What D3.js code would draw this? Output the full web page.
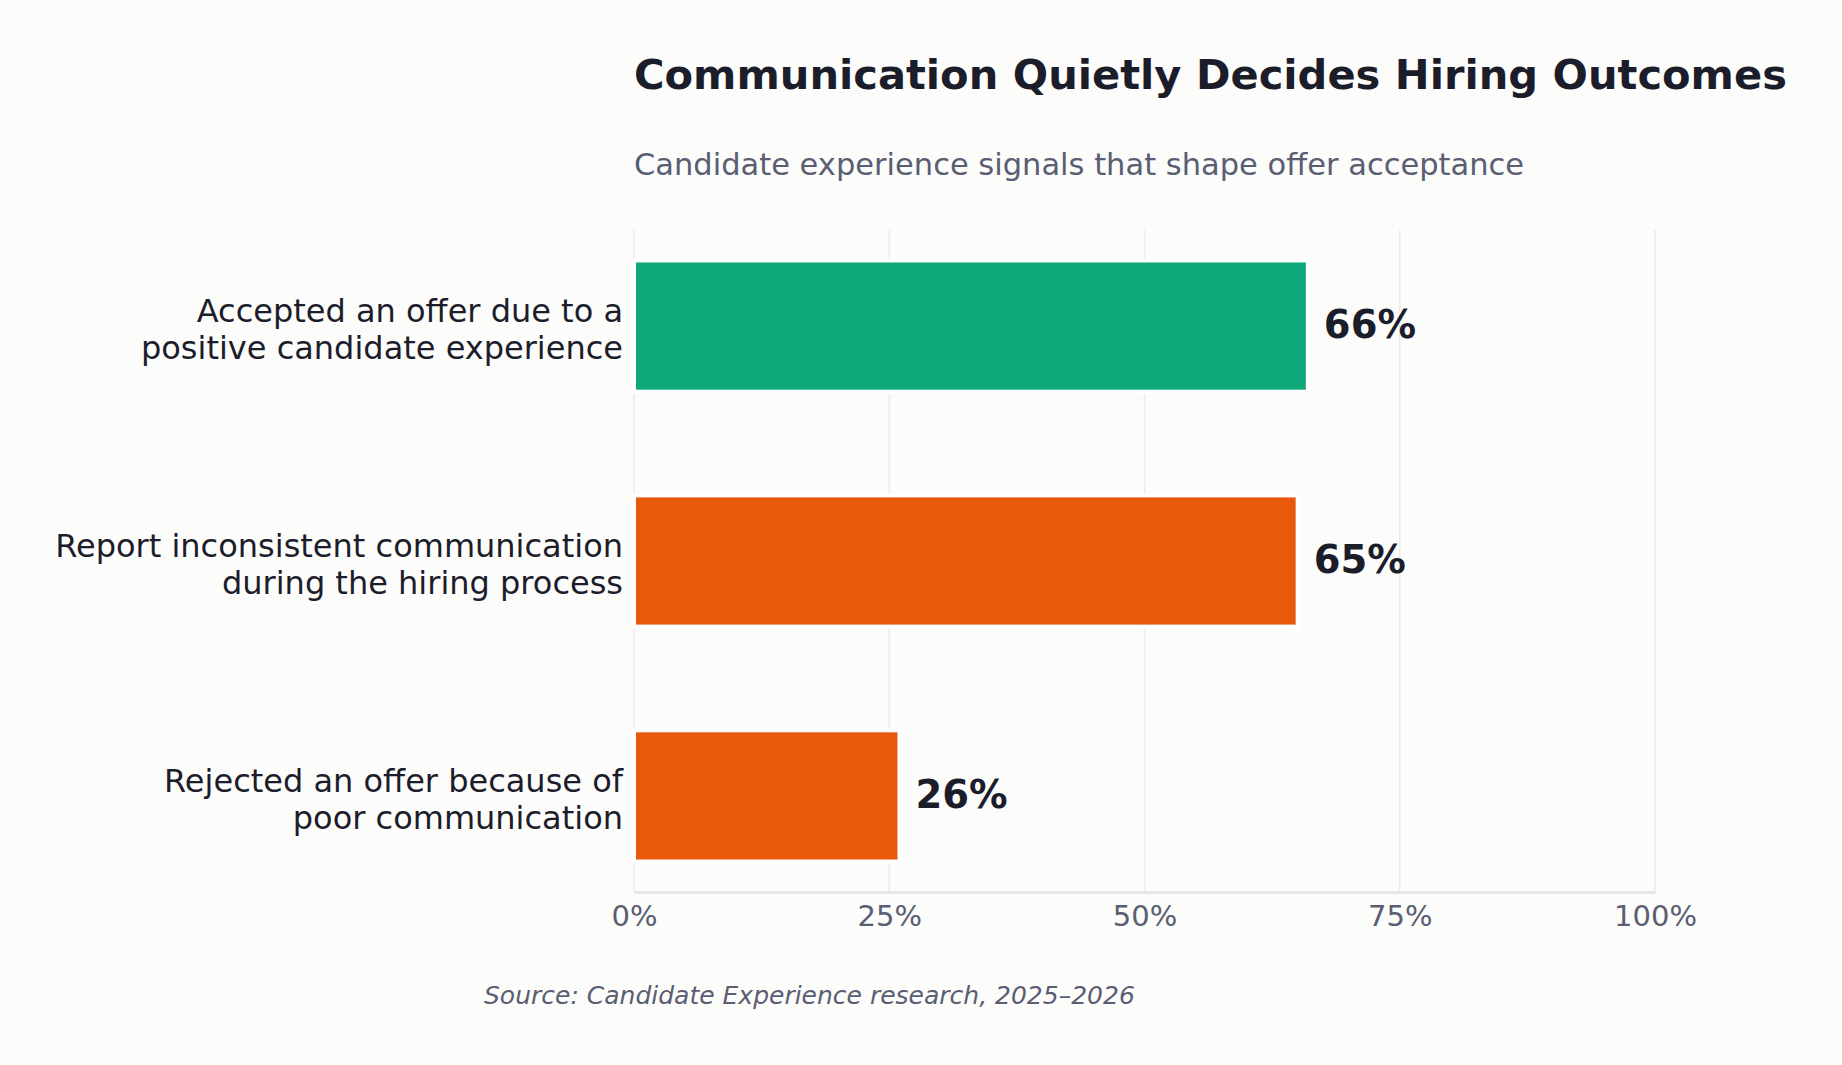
<!DOCTYPE html>
<html>
<head>
<meta charset="utf-8">
<script src="https://cdn.jsdelivr.net/npm/d3@7"></script>
<style>
  body { margin: 0; background: #fcfcfb; }
  svg { display: block; font-family: "DejaVu Sans", sans-serif; }
</style>
</head>
<body>
<svg id="chart" width="1842" height="1065"></svg>
<script>
// Data
const categories = [
  ["Accepted an offer due to a", "positive candidate experience"],
  ["Report inconsistent communication", "during the hiring process"],
  ["Rejected an offer because of", "poor communication"]
];
const values = [66, 65, 26];
const barColors = ["#0fa87a", "#e8590c", "#e8590c"];
const tickValues = [0, 25, 50, 75, 100];

const title = "Communication Quietly Decides Hiring Outcomes";
const subtitle = "Candidate experience signals that shape offer acceptance";
const source = "Source: Candidate Experience research, 2025\u20132026";

const width = 1842, height = 1065;
const margin = { left: 634, right: 187, top: 230, bottom: 173 };

const svg = d3.select("#chart");

svg.append("rect")
  .attr("width", width).attr("height", height)
  .attr("fill", "#fcfcfb");

// Scales
const xScale = d3.scaleLinear()
  .domain([0, 100])
  .range([margin.left, width - margin.right]);

const yScale = d3.scaleBand()
  .domain(d3.range(values.length))
  .range([margin.top, height - margin.bottom])
  .paddingInner(0.45)
  .paddingOuter(0.134);

// Gridlines
svg.append("g")
  .selectAll("line")
  .data(tickValues)
  .join("line")
  .attr("x1", d => xScale(d)).attr("x2", d => xScale(d))
  .attr("y1", margin.top).attr("y2", height - margin.bottom)
  .attr("stroke", "#ebebeb")
  .attr("stroke-width", 1.5);

// Bars (white edge hides grid around them)
svg.append("g")
  .selectAll("rect")
  .data(values)
  .join("rect")
  .attr("x", xScale(0))
  .attr("y", (d, i) => yScale(i) - 1)
  .attr("width", d => xScale(d) - xScale(0))
  .attr("height", yScale.bandwidth() + 2)
  .attr("fill", (d, i) => barColors[i])
  .attr("stroke", "#ffffff")
  .attr("stroke-width", 4);

// X axis
const xAxis = svg.append("g")
  .attr("transform", `translate(0, ${height - margin.bottom})`)
  .call(d3.axisBottom(xScale)
    .tickValues(tickValues)
    .tickSize(0)
    .tickPadding(13)
    .tickFormat(d => d + "%"));
xAxis.select(".domain").attr("stroke", "#e3e3e8").attr("stroke-width", 2.5);
xAxis.selectAll("text")
  .attr("font-size", 29)
  .attr("fill", "#5a5e72")
  .attr("font-family", "DejaVu Sans, sans-serif");

// Category labels
const labels = svg.append("g")
  .selectAll("text")
  .data(categories)
  .join("text")
  .attr("text-anchor", "end")
  .attr("font-size", 32)
  .attr("fill", "#1c1d2b");
labels.each(function (d, i) {
  const cy = yScale(i) + yScale.bandwidth() / 2;
  d3.select(this).selectAll("tspan")
    .data(d)
    .join("tspan")
    .attr("x", margin.left - 11)
    .attr("y", (t, j) => cy - 4 + j * 37)
    .text(t => t);
});

// Value labels
svg.append("g")
  .selectAll("text")
  .data(values)
  .join("text")
  .attr("x", d => xScale(d) + 16)
  .attr("y", (d, i) => yScale(i) + yScale.bandwidth() / 2 + 12)
  .attr("font-size", 38.5)
  .attr("font-weight", "bold")
  .attr("fill", "#1c1d2b")
  .text(d => d + "%");

// Titles
svg.append("text")
  .attr("x", margin.left).attr("y", 89)
  .attr("font-size", 41.6)
  .attr("font-weight", "bold")
  .attr("fill", "#1c1d2b")
  .text(title);

svg.append("text")
  .attr("x", margin.left).attr("y", 175)
  .attr("font-size", 30.5)
  .attr("fill", "#5a5e72")
  .text(subtitle);

svg.append("text")
  .attr("x", 484).attr("y", 1004)
  .attr("font-size", 25)
  .attr("font-style", "italic")
  .attr("fill", "#5a5e72")
  .text(source);
</script>
</body>
</html>
